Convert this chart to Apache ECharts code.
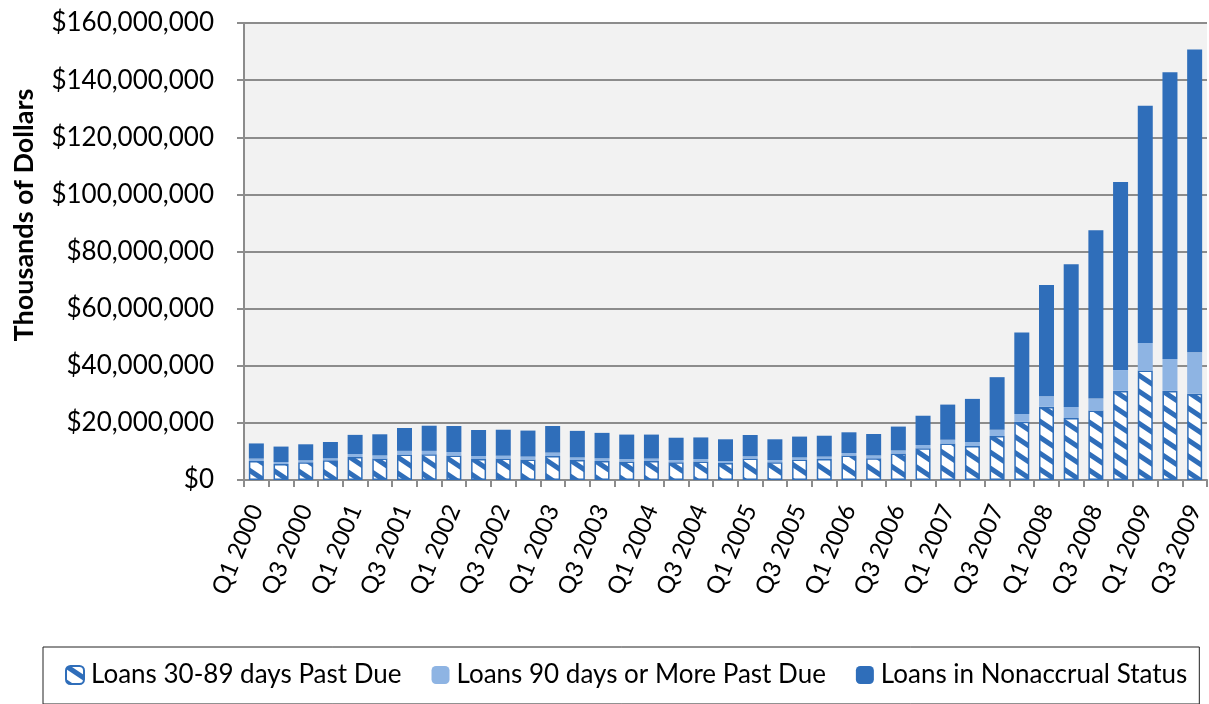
<!DOCTYPE html>
<html>
<head>
    <meta charset="utf-8">
    <title>Past due and nonaccrual loans</title>
    <script src="https://cdn.jsdelivr.net/npm/echarts@6/dist/echarts.min.js"></script>
    <style>
        html, body { margin: 0; padding: 0; background: #fff; }
    </style>
</head>
<body>
    <div id="chart" style="width: 1209px;height:704px;"></div>
    <script type="text/javascript">
        // quarters Q1 2000 .. Q3 2009
        var quarters = [];
        for (var yr = 2000; yr <= 2009; yr++) {
            for (var q = 1; q <= 4; q++) {
                if (yr == 2009 && q == 4) break;
                quarters.push('Q' + q + ' ' + yr);
            }
        }

        // values in millions of (thousands of dollars)
        var pastDue30to89 = [6.65, 5.6, 6.2, 6.9, 8.05, 7.5, 8.9, 9.0, 8.6, 7.35,
            7.5, 7.2, 8.4, 7.0, 6.65, 6.5, 6.65, 6.2, 6.5, 5.95,
            7.5, 6.2, 7.2, 7.35, 8.6, 7.6, 9.3, 11.1, 12.8, 11.9,
            15.4, 20.4, 25.6, 21.7, 24.3, 31.2, 38.3, 31.2, 30.2];
        var pastDue90plus = [0.85, 0.7, 0.7, 0.7, 1.05, 1.1, 1.3, 1.2, 1.2, 1.05,
            1.0, 1.0, 1.2, 0.9, 0.95, 0.85, 0.85, 0.8, 0.85, 0.7,
            0.8, 0.8, 0.7, 0.85, 0.85, 1.0, 1.05, 1.15, 1.3, 1.4,
            2.2, 2.7, 3.7, 3.9, 4.2, 7.3, 9.7, 11.2, 14.5];
        var nonaccrual = [5.3, 5.4, 5.6, 5.7, 6.7, 7.4, 8.0, 8.8, 9.1, 9.1,
            9.1, 9.1, 9.3, 9.3, 8.9, 8.55, 8.4, 7.8, 7.55, 7.6,
            7.45, 7.25, 7.3, 7.3, 7.25, 7.5, 8.35, 10.25, 12.3, 15.1,
            18.4, 28.5, 39.0, 49.9, 58.9, 65.8, 83.0, 100.4, 106.0];

        var seriesNames = ['Loans 30-89 days Past Due', 'Loans 90 days or More Past Due', 'Loans in Nonaccrual Status'];
        var dark = '#2F6EBA';
        var light = '#8EB4E3';
        var fontName = 'Lato, "Open Sans", sans-serif';

        // diagonal hatch used by the 30-89 days series
        function makeHatch() {
            var c = document.createElement('canvas');
            c.width = 24; c.height = 16;
            var g = c.getContext('2d');
            g.fillStyle = '#fff';
            g.fillRect(0, 0, 24, 16);
            g.strokeStyle = dark;
            g.lineWidth = 5;
            for (var k = -2; k <= 2; k++) {
                g.beginPath();
                g.moveTo(-6, k * 16 - 4);
                g.lineTo(30, k * 16 + 20);
                g.stroke();
            }
            return c;
        }
        var hatch = makeHatch();

        var Chart = echarts.init(document.getElementById('chart'));
        var option = {
            animation: false,
            textStyle: { fontFamily: fontName },
            grid: {
                left: 244, right: 2, top: 23, bottom: 224,
                show: true, backgroundColor: '#F2F2F2', borderWidth: 0
            },
            legend: {
                left: 43, top: 647,
                padding: [15, 12, 16, 22],
                itemGap: 30,
                itemWidth: 18, itemHeight: 18,
                borderColor: '#222', borderWidth: 1,
                textStyle: { fontSize: 26, color: '#000', fontFamily: fontName, padding: [0, 0, 0, 2] },
                data: seriesNames
            },
            graphic: [{
                type: 'text',
                x: 11, y: 215,
                rotation: Math.PI / 2,
                style: {
                    text: 'Thousands of Dollars',
                    font: 'bold 27px ' + fontName,
                    fill: '#000',
                    align: 'center',
                    verticalAlign: 'top'
                }
            }],
            xAxis: {
                type: 'category',
                data: quarters,
                axisLine: { lineStyle: { color: '#8C8C8C', width: 2 } },
                axisTick: { show: true, interval: 0, length: 7, lineStyle: { color: '#8C8C8C', width: 2 } },
                axisLabel: { interval: 1, rotate: 67, fontSize: 24, color: '#000', margin: 26 }
            },
            yAxis: {
                type: 'value',
                min: 0, max: 160, interval: 20,
                axisLine: { show: true, lineStyle: { color: '#8C8C8C', width: 2 } },
                axisTick: { show: true, length: 7, lineStyle: { color: '#8C8C8C', width: 2 } },
                splitLine: { lineStyle: { color: '#8C8C8C', width: 2 } },
                axisLabel: {
                    fontSize: 26, color: '#000', margin: 30,
                    formatter: function (v) { return '$' + (v * 1000000).toLocaleString('en-US'); }
                }
            },
            series: [{
                name: seriesNames[0], type: 'bar', stack: 'loans', barWidth: 15,
                itemStyle: { color: { image: hatch, repeat: 'repeat' }, borderColor: dark, borderWidth: 1.5 },
                data: pastDue30to89
            }, {
                name: seriesNames[1], type: 'bar', stack: 'loans', barWidth: 15,
                itemStyle: { color: light },
                data: pastDue90plus
            }, {
                name: seriesNames[2], type: 'bar', stack: 'loans', barWidth: 15,
                itemStyle: { color: dark },
                data: nonaccrual
            }]
        };
        Chart.setOption(option);
    </script>
</body>
</html>
